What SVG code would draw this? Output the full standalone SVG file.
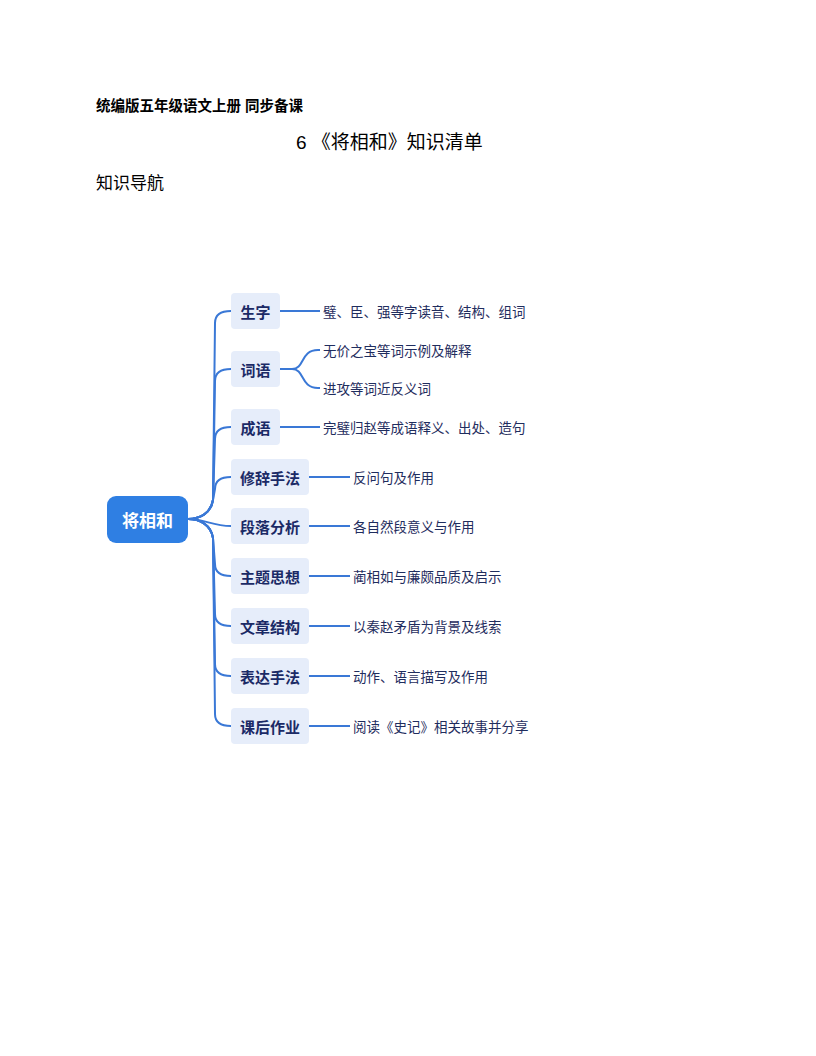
<svg xmlns="http://www.w3.org/2000/svg" width="816" height="1056" viewBox="0 0 816 1056">
<style>
.h{font-family:"Liberation Sans","Noto Sans CJK SC",sans-serif;fill:#000}
.b{fill:#e6edfa}
.bt{font-family:"Noto Sans CJK SC",sans-serif;font-size:15px;font-weight:bold;fill:#1b2a66;text-anchor:middle;dominant-baseline:central}
.lt{font-family:"Noto Sans CJK SC",sans-serif;font-size:13.5px;fill:#1f2d5e;dominant-baseline:central}
.c{fill:none;stroke:#3a78d6;stroke-width:2}
</style>
<rect width="816" height="1056" fill="#fff"/>
<text class="h" x="96" y="111" font-size="14.5" font-weight="bold">统编版五年级语文上册  同步备课</text>
<text class="h" x="296" y="149" font-size="19">6   《将相和》知识清单</text>
<text class="h" x="96" y="189" font-size="17">知识导航</text>
<g id="connectors" class="c">
<path d="M188,519 C200,519 211,513 213,500 L215,323 Q215,311 231,311"/>
<path d="M188,519 C200,519 211,513 213,500 L215,381 Q215,369 231,369"/>
<path d="M188,519 C200,519 211,513 213,500 L215,439 Q215,427 231,427"/>
<path d="M188,519 C200,519 211,513 213,500 L215,489 Q215,477 231,477"/>
<path d="M188,519 C205,519 212,526 231,526"/>
<path d="M188,519 C200,519 211,525 213,538 L215,564 Q215,576 231,576"/>
<path d="M188,519 C200,519 211,525 213,538 L215,614 Q215,626 231,626"/>
<path d="M188,519 C200,519 211,525 213,538 L215,664 Q215,676 231,676"/>
<path d="M188,519 C200,519 211,525 213,538 L215,714 Q215,726 231,726"/>
<path d="M280,311 H320"/>
<path d="M280,369 H292 C305,369 300,350 318,350 H320"/>
<path d="M280,369 H292 C305,369 300,388 318,388 H320"/>
<path d="M280,427 H320"/>
<path d="M309,477 H350"/>
<path d="M309,526 H350"/>
<path d="M309,576 H350"/>
<path d="M309,626 H350"/>
<path d="M309,676 H350"/>
<path d="M309,726 H350"/>
</g>
<g id="root"><rect x="107" y="496" width="81" height="47" rx="9" fill="#2f7fe3"/><text x="147.5" y="519.5" font-family="Noto Sans CJK SC,sans-serif" font-size="17" font-weight="bold" fill="#fff" text-anchor="middle" dominant-baseline="central">将相和</text></g>
<g id="n1"><rect class="b" x="231" y="293" width="49" height="36" rx="4"/><text class="bt" x="255.5" y="311">生字</text><text class="lt" x="323" y="311">璧、臣、强等字读音、结构、组词</text></g>
<g id="n2"><rect class="b" x="231" y="351" width="49" height="36" rx="4"/><text class="bt" x="255.5" y="369">词语</text><text class="lt" x="323" y="350">无价之宝等词示例及解释</text><text class="lt" x="323" y="388">进攻等词近反义词</text></g>
<g id="n3"><rect class="b" x="231" y="409" width="49" height="36" rx="4"/><text class="bt" x="255.5" y="427">成语</text><text class="lt" x="323" y="427">完璧归赵等成语释义、出处、造句</text></g>
<g id="n4"><rect class="b" x="231" y="459" width="78" height="36" rx="4"/><text class="bt" x="270" y="477">修辞手法</text><text class="lt" x="353" y="477">反问句及作用</text></g>
<g id="n5"><rect class="b" x="231" y="508" width="78" height="36" rx="4"/><text class="bt" x="270" y="526">段落分析</text><text class="lt" x="353" y="526">各自然段意义与作用</text></g>
<g id="n6"><rect class="b" x="231" y="558" width="78" height="36" rx="4"/><text class="bt" x="270" y="576">主题思想</text><text class="lt" x="353" y="576">蔺相如与廉颇品质及启示</text></g>
<g id="n7"><rect class="b" x="231" y="608" width="78" height="36" rx="4"/><text class="bt" x="270" y="626">文章结构</text><text class="lt" x="353" y="626">以秦赵矛盾为背景及线索</text></g>
<g id="n8"><rect class="b" x="231" y="658" width="78" height="36" rx="4"/><text class="bt" x="270" y="676">表达手法</text><text class="lt" x="353" y="676">动作、语言描写及作用</text></g>
<g id="n9"><rect class="b" x="231" y="708" width="78" height="36" rx="4"/><text class="bt" x="270" y="726">课后作业</text><text class="lt" x="353" y="726">阅读《史记》相关故事并分享</text></g>
</svg>
